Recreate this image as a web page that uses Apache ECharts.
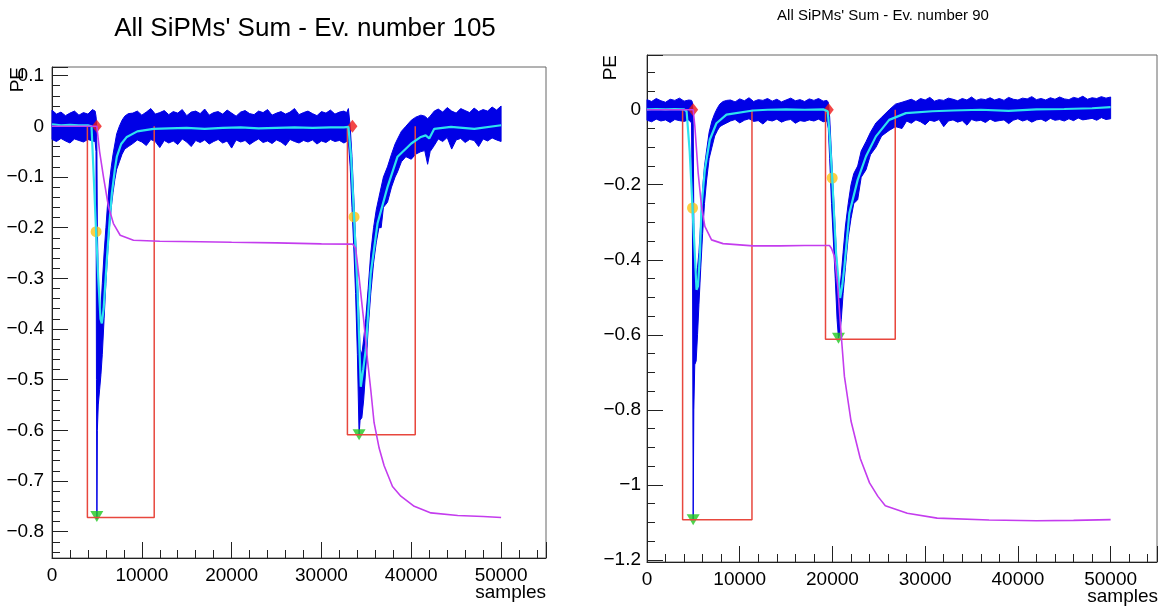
<!DOCTYPE html>
<html>
<head>
<meta charset="utf-8">
<script src="https://cdn.jsdelivr.net/npm/echarts@6/dist/echarts.min.js"></script>
<style>
  html, body { margin: 0; padding: 0; background: #fff; }
  #chart { width: 1166px; height: 606px; }
</style>
</head>
<body>
<div id="chart"></div>
<script>
// ---- Ev. number 105 (left) ----
const bandXL = [0, 500, 1000, 1500, 2000, 2500, 3000, 3500, 4000, 4500, 4800, 4900,
  4950, 5000, 5050, 5150, 5300, 5450, 5600, 5800, 6000, 6200, 6400, 6600, 6800, 7000, 7200, 7500, 7800, 8100, 8500,
  9000, 9500, 10000, 10500, 11000, 11500, 12000, 12500, 13000, 13500, 14000, 14500, 15000, 15500, 16000, 16500,
  17000, 17500, 18000, 18500, 19000, 19500, 20000, 20500, 21000, 21500, 22000, 22500, 23000, 23500, 24000, 24500,
  25000, 25500, 26000, 26500, 27000, 27500, 28000, 28500, 29000, 29500, 30000, 30500, 31000, 31500, 32000, 32500, 32800,
  33000, 33200, 33400, 33600, 33800, 34000, 34190, 34300, 34500, 34700, 34930, 35200, 35490, 35800, 36100, 36400,
  36650, 36900, 37350, 37800, 38200, 38470, 38900, 39400, 40000, 40500, 41070, 41500, 41820, 42100, 42560,
  43000, 43500, 44000, 44500, 45000, 45500, 46000, 46500, 47000, 47500, 48000, 48500, 49000, 49500, 50000];
const bandHiL = [0.032, 0.024, 0.028, 0.021, 0.026, 0.03, 0.022, 0.027, 0.024, 0.033, 0.03, 0.02,
  0.01, -0.05, -0.2, -0.3, -0.37, -0.36, -0.31, -0.25, -0.2, -0.15, -0.11, -0.08, -0.055, -0.035, -0.015, 0.0, 0.012, 0.02, 0.025,
  0.026, 0.03, 0.022, 0.028, 0.035, 0.024, 0.027, 0.031, 0.023, 0.029, 0.026, 0.033, 0.021, 0.028, 0.03, 0.025,
  0.034, 0.022, 0.027, 0.029, 0.024, 0.032, 0.026, 0.02, 0.028, 0.031, 0.025, 0.023, 0.03, 0.027, 0.033, 0.022,
  0.026, 0.029, 0.024, 0.028, 0.035, 0.023, 0.027, 0.03, 0.025, 0.021, 0.029, 0.026, 0.032, 0.024, 0.028, 0.03, 0.027,
  0.035, 0.0, -0.06, -0.14, -0.22, -0.3, -0.38, -0.44, -0.45, -0.42, -0.38, -0.32, -0.25, -0.2, -0.165, -0.14,
  -0.12, -0.1, -0.08, -0.055, -0.035, -0.025, -0.01, 0.0, 0.012, 0.018, 0.022, 0.02, 0.015, 0.02, 0.03,
  0.034, 0.028, 0.037, 0.03, 0.026, 0.035, 0.031, 0.027, 0.036, 0.029, 0.033, 0.03, 0.038, 0.032, 0.04];
const bandLoL = [-0.026, -0.03, -0.024, -0.029, -0.033, -0.025, -0.028, -0.031, -0.026, -0.029, -0.03, -0.05,
  -0.5, -0.775, -0.6, -0.55, -0.52, -0.49, -0.45, -0.38, -0.31, -0.25, -0.2, -0.16, -0.13, -0.105, -0.085, -0.07, -0.055, -0.045, -0.04,
  -0.034, -0.027, -0.031, -0.038, -0.026, -0.03, -0.042, -0.028, -0.033, -0.029, -0.036, -0.025, -0.031, -0.04, -0.028, -0.032,
  -0.027, -0.035, -0.03, -0.026, -0.033, -0.029, -0.043, -0.027, -0.031, -0.028, -0.036, -0.03, -0.025, -0.032, -0.029, -0.034,
  -0.027, -0.031, -0.038, -0.026, -0.03, -0.033, -0.028, -0.031, -0.027, -0.035, -0.029, -0.032, -0.026, -0.03, -0.028, -0.033, -0.03,
  -0.03, -0.08, -0.16, -0.24, -0.33, -0.45, -0.609, -0.58, -0.575, -0.54, -0.48, -0.4, -0.33, -0.27, -0.23, -0.2,
  -0.2, -0.16, -0.15, -0.12, -0.1, -0.09, -0.07, -0.06, -0.065, -0.055, -0.05, -0.048, -0.075, -0.05, -0.038,
  -0.025, -0.03, -0.022, -0.045, -0.027, -0.024, -0.032, -0.026, -0.028, -0.04, -0.025, -0.029, -0.023, -0.027, -0.03];

const cyanXL = [0, 1000, 2000, 3000, 4000, 4400, 4650, 4910, 5150, 5400, 5550, 5750, 6100, 6400, 6660, 7000, 7220,
  7700, 8330, 9500, 11300, 13000, 15000, 17000, 19000, 21000, 23000, 25000, 27000, 29000, 31000, 32500, 33000,
  33300, 33630, 34010, 34380, 34650, 34930, 35490, 36240, 37350, 38470, 40000, 41070, 41600, 42000, 42560, 44420, 47020, 50000];
const cyanYL = [0.004, 0.002, 0.003, 0.002, 0.002, 0.0, -0.1, -0.208, -0.3, -0.38, -0.389, -0.36, -0.264, -0.19, -0.133, -0.085, -0.06,
  -0.035, -0.021, -0.01, -0.005, -0.004, -0.003, -0.005, -0.003, -0.002, -0.004, -0.003, -0.002, -0.003, -0.002, -0.002, -0.001,
  -0.06, -0.179, -0.323, -0.514, -0.48, -0.441, -0.29, -0.192, -0.12, -0.06, -0.034, -0.021, -0.018, -0.024, -0.005, -0.001, -0.005, 0.002];

const intXL = [0, 4990, 5300, 5730, 6290, 6840, 7590, 9070, 12000, 16500, 20000, 25000, 30000, 33450, 33800, 34200,
  34740, 35120, 35490, 35860, 36420, 36980, 37910, 38840, 40330, 42190, 45170, 48000, 50000];
const intYL = [0, 0, -0.05, -0.1, -0.159, -0.192, -0.215, -0.225, -0.227, -0.228, -0.229, -0.23, -0.232, -0.2325, -0.24, -0.3,
  -0.389, -0.46, -0.52, -0.585, -0.635, -0.67, -0.711, -0.73, -0.75, -0.763, -0.768, -0.77, -0.772];

const boxX0L = [3940, 32890];
const boxX1L = [11380, 40440];
const boxLoL = [-0.772, -0.609];
const startXL = [4990, 33450];
const startYL = [0, 0];
const halfXL = [4910, 33630];
const halfYL = [-0.208, -0.179];
const peakXL = [4990, 34190];
const peakYL = [-0.77, -0.609];

// ---- Ev. number 90 (right) ----
const bandXR = [0, 500, 1000, 1500, 2000, 2500, 3000, 3500, 4000, 4500, 4800, 4900,
  4980, 5050, 5150, 5300, 5450, 5600, 5800, 6000, 6200, 6420, 6700, 7000, 7300, 7600, 7850, 8200, 8600,
  9000, 9500, 10000, 10500, 11000, 11500, 12000, 12500, 13000, 13500, 14000, 14500, 15000, 15500, 16000, 16500,
  17000, 17500, 18000, 18500, 19000, 19400,
  19550, 19700, 19900, 20100, 20300, 20500, 20650, 20800, 20950, 21150, 21400, 21700, 22000, 22300, 22720, 23100,
  23620, 24100, 24690, 25300, 26120, 26800, 27500,
  28000, 28500, 29000, 29500, 30000, 30500, 31000, 31500, 32000, 32500, 33000, 33500, 34000, 34500, 35000, 35500,
  36000, 36500, 37000, 37500, 38000, 38500, 39000, 39500, 40000, 40500, 41000, 41500, 42000, 42500, 43000, 43500,
  44000, 44500, 45000, 45500, 46000, 46500, 47000, 47500, 48000, 48500, 49000, 49500, 50000];
const bandHiR = [0.027, 0.022, 0.03, 0.024, 0.02, 0.028, 0.025, 0.031, 0.023, 0.026, 0.025, 0.02,
  -0.02, -0.3, -0.42, -0.44, -0.42, -0.38, -0.3, -0.21, -0.15, -0.11, -0.06, -0.03, -0.01, 0.005, 0.015, 0.022, 0.025,
  0.026, 0.021, 0.029, 0.024, 0.032, 0.022, 0.027, 0.025, 0.03, 0.023, 0.028, 0.021, 0.026, 0.031, 0.024, 0.027,
  0.022, 0.029, 0.025, 0.03, 0.023, 0.025,
  0.02, -0.02, -0.12, -0.22, -0.32, -0.42, -0.46, -0.48, -0.44, -0.38, -0.31, -0.25, -0.2, -0.17, -0.15, -0.11,
  -0.085, -0.06, -0.035, -0.02, 0.0, 0.015, 0.02,
  0.024, 0.028, 0.022, 0.03, 0.026, 0.033, 0.023, 0.027, 0.025, 0.031, 0.028, 0.024, 0.03, 0.026, 0.034, 0.025,
  0.029, 0.027, 0.032, 0.026, 0.03, 0.025, 0.033, 0.028, 0.026, 0.031, 0.029, 0.035, 0.027, 0.03, 0.026, 0.032,
  0.028, 0.034, 0.029, 0.027, 0.033, 0.03, 0.036, 0.028, 0.032, 0.03, 0.035, 0.031, 0.034];
const bandLoR = [-0.028, -0.032, -0.025, -0.03, -0.027, -0.034, -0.026, -0.029, -0.031, -0.027, -0.035, -0.3,
  -1.093, -0.8, -0.68, -0.67, -0.6, -0.52, -0.42, -0.33, -0.25, -0.19, -0.13, -0.1, -0.07, -0.055, -0.045, -0.04, -0.035,
  -0.03, -0.026, -0.035, -0.028, -0.024, -0.031, -0.029, -0.038, -0.027, -0.03, -0.025, -0.033, -0.028, -0.026, -0.036, -0.029,
  -0.031, -0.027, -0.03, -0.025, -0.032, -0.03,
  -0.05, -0.13, -0.25, -0.35, -0.45, -0.56, -0.609, -0.596, -0.56, -0.49, -0.42, -0.34, -0.29, -0.25, -0.24, -0.18,
  -0.16, -0.12, -0.1, -0.07, -0.055, -0.045, -0.05,
  -0.03, -0.036, -0.027, -0.032, -0.04, -0.028, -0.031, -0.026, -0.045, -0.03, -0.027, -0.033, -0.029, -0.041, -0.026, -0.03,
  -0.028, -0.034, -0.025, -0.031, -0.029, -0.027, -0.037, -0.028, -0.024, -0.03, -0.026, -0.033, -0.027, -0.025, -0.031, -0.023,
  -0.028, -0.026, -0.03, -0.024, -0.029, -0.022, -0.027, -0.025, -0.023, -0.028, -0.021, -0.026, -0.024];

const cyanXR = [0, 1000, 2000, 3000, 4000, 4270, 4600, 4910, 5150, 5340, 5500, 5700, 5880, 6240, 6770, 7490, 8570,
  11430, 13000, 15000, 17000, 19000, 19490, 19700, 19970, 20390, 20830, 21050, 21290, 21820, 22720, 23620, 24690,
  26120, 27920, 30780, 33000, 36000, 39000, 42000, 45000, 48000, 50000];
const cyanYR = [0.001, 0.002, 0.001, 0.002, 0.001, -0.004, -0.11, -0.262, -0.38, -0.48, -0.47, -0.391, -0.258, -0.16, -0.08, -0.036, -0.013,
  -0.002, 0.0, 0.001, 0.0, 0.001, -0.004, -0.07, -0.182, -0.382, -0.502, -0.47, -0.418, -0.276, -0.187, -0.124, -0.071,
  -0.027, -0.009, -0.004, -0.002, 0.0, -0.003, 0.001, 0.002, 0.004, 0.007];

const intXR = [0, 4980, 5160, 5520, 5880, 6240, 6960, 8200, 11430, 14300, 17000, 19680, 19900, 20220, 20570, 20930,
  21290, 22000, 23000, 24000, 24900, 25700, 28070, 31290, 36880, 42000, 46000, 50000];
const intYR = [0, 0, -0.044, -0.169, -0.258, -0.311, -0.347, -0.357, -0.363, -0.363, -0.362, -0.362, -0.37, -0.391, -0.471, -0.596,
  -0.711, -0.83, -0.93, -0.995, -1.031, -1.056, -1.076, -1.089, -1.094, -1.096, -1.095, -1.093];

const boxX0R = [3840, 19250];
const boxX1R = [11320, 26770];
const boxLoR = [-1.093, -0.612];
const startXR = [4980, 19600];
const startYR = [0, 0];
const halfXR = [4910, 19970];
const halfYR = [-0.262, -0.182];
const peakXR = [4980, 20650];
const peakYR = [-1.093, -0.609];

const titles = ["All SiPMs' Sum - Ev. number 105", "All SiPMs' Sum - Ev. number 90"];
const xTicks = [0, 10000, 20000, 30000, 40000, 50000];

const FONT = 'Liberation Sans, Arial, Helvetica, sans-serif';
const BLUE = '#0000e6';
const CYAN = '#2ee3ee';
const MAGENTA = '#c43cee';
const RED = '#e8473d';

const pairs = (xs, ys) => xs.map((x, i) => [x, ys[i]]);

const panels = [
  { bandX: bandXL, hi: bandHiL, lo: bandLoL, cx: cyanXL, cy: cyanYL, ix: intXL, iy: intYL,
    b0: boxX0L, b1: boxX1L, bLo: boxLoL, sx: startXL, sy: startYL, hx: halfXL, hy: halfYL, px: peakXL, py: peakYL },
  { bandX: bandXR, hi: bandHiR, lo: bandLoR, cx: cyanXR, cy: cyanYR, ix: intXR, iy: intYR,
    b0: boxX0R, b1: boxX1R, bLo: boxLoR, sx: startXR, sy: startYR, hx: halfXR, hy: halfYR, px: peakXR, py: peakYR }
];

// the noisy waveform: one polygon between its lower and upper envelope
function bandItem(params, api) {
  if (params.dataIndexInside !== 0) return null;
  const n = params.dataInsideLength;
  const top = [], bottom = [];
  for (let k = 0; k < n; k++) {
    const x = api.value(0, k);
    top.push(api.coord([x, api.value(2, k)]));
    bottom.push(api.coord([x, api.value(1, k)]));
  }
  return {
    type: 'polygon',
    shape: { points: top.concat(bottom.reverse()) },
    style: { fill: BLUE, stroke: BLUE, lineWidth: 1 }
  };
}

function panelSeries(i, p) {
  const axes = { xAxisIndex: i, yAxisIndex: i };
  const out = [];
  out.push({ ...axes, type: 'custom', silent: true, renderItem: bandItem,
    encode: { x: 0, y: [1, 2] },
    data: p.bandX.map((x, k) => [x, p.lo[k], p.hi[k]]) });
  p.b0.forEach((x0, k) => {
    out.push({ ...axes, type: 'line', symbol: 'none', silent: true,
      data: [[x0, 0], [x0, p.bLo[k]], [p.b1[k], p.bLo[k]], [p.b1[k], 0]],
      lineStyle: { color: RED, width: 1.5 } });
  });
  out.push({ ...axes, type: 'line', symbol: 'none', silent: true, data: pairs(p.cx, p.cy),
    lineStyle: { color: CYAN, width: 2.2 } });
  out.push({ ...axes, type: 'line', symbol: 'none', silent: true, data: pairs(p.ix, p.iy),
    lineStyle: { color: MAGENTA, width: 1.6 } });
  out.push({ ...axes, type: 'scatter', symbol: 'diamond', symbolSize: [10, 13], data: pairs(p.sx, p.sy),
    itemStyle: { color: '#f01818' } });
  out.push({ ...axes, type: 'scatter', symbol: 'circle', symbolSize: 11, data: pairs(p.hx, p.hy),
    itemStyle: { color: '#fbc314' } });
  out.push({ ...axes, type: 'scatter', symbol: 'triangle', symbolRotate: 180, symbolSize: [13, 11],
    data: pairs(p.px, p.py), itemStyle: { color: '#20c820' } });
  return out;
}

function yFmt(step) {
  return v => {
    const k = Math.round(v / step);
    if (Math.abs(v / step - k) > 1e-6) return '';
    const s = +(k * step).toFixed(2);
    return s < 0 ? '\u2212' + Math.abs(s) : String(s);
  };
}

function xAxis(i) {
  return {
    type: 'value', gridIndex: i, min: 0, max: 55000, interval: 10000,
    axisLine: { onZero: false, lineStyle: { color: '#222', width: 1 } },
    axisTick: { inside: true, length: 16, lineStyle: { color: '#222' } },
    minorTick: { show: true, splitNumber: 5, length: 8, lineStyle: { color: '#222' } },
    splitLine: { show: false },
    axisLabel: { color: '#000', fontSize: 19, fontFamily: FONT, margin: 8,
      formatter: v => (xTicks.includes(v) ? String(v) : '') }
  };
}

function yAxis(i, min, max, split, step, minorSplit, margin) {
  return {
    type: 'value', gridIndex: i, min: min, max: max, splitNumber: split,
    axisLine: { onZero: false, lineStyle: { color: '#222', width: 1 } },
    axisTick: { inside: true, length: 16, lineStyle: { color: '#222' } },
    minorTick: { show: true, splitNumber: minorSplit, length: 8, lineStyle: { color: '#222' } },
    splitLine: { show: false },
    axisLabel: { color: '#000', fontSize: 19, fontFamily: FONT, margin: margin, formatter: yFmt(step) }
  };
}

const chart = echarts.init(document.getElementById('chart'));

const option = {
  animation: false,
  backgroundColor: '#fff',
  textStyle: { fontFamily: FONT },
  title: [
    { text: titles[0], left: 300, top: 11, textAlign: 'center',
      textStyle: { fontSize: 26, fontWeight: 'normal', color: '#000', fontFamily: FONT } },
    { text: titles[1], left: 878, top: 3, textAlign: 'center',
      textStyle: { fontSize: 15, fontWeight: 'normal', color: '#000', fontFamily: FONT } }
  ],
  grid: [
    { left: 52, top: 67, width: 494, height: 491, show: true, borderColor: '#666', borderWidth: 1 },
    { left: 647, top: 55, width: 510, height: 507, show: true, borderColor: '#666', borderWidth: 1 }
  ],
  xAxis: [xAxis(0), xAxis(1)],
  yAxis: [
    yAxis(0, -0.852, 0.117, 10, 0.1, 5, 8),
    yAxis(1, -1.206, 0.146, 7, 0.2, 4, 6)
  ],
  graphic: [
    { type: 'text', x: 18, y: 67, rotation: Math.PI / 2,
      style: { text: 'PE', fontSize: 19, fontFamily: FONT, fill: '#000', align: 'right', verticalAlign: 'middle' } },
    { type: 'text', x: 611, y: 55, rotation: Math.PI / 2,
      style: { text: 'PE', fontSize: 19, fontFamily: FONT, fill: '#000', align: 'right', verticalAlign: 'middle' } },
    { type: 'text', x: 546, y: 593,
      style: { text: 'samples', fontSize: 19, fontFamily: FONT, fill: '#000', align: 'right', verticalAlign: 'middle' } },
    { type: 'text', x: 1158, y: 597,
      style: { text: 'samples', fontSize: 19, fontFamily: FONT, fill: '#000', align: 'right', verticalAlign: 'middle' } }
  ],
  series: [...panelSeries(0, panels[0]), ...panelSeries(1, panels[1])]
};

chart.setOption(option);
</script>
</body>
</html>
